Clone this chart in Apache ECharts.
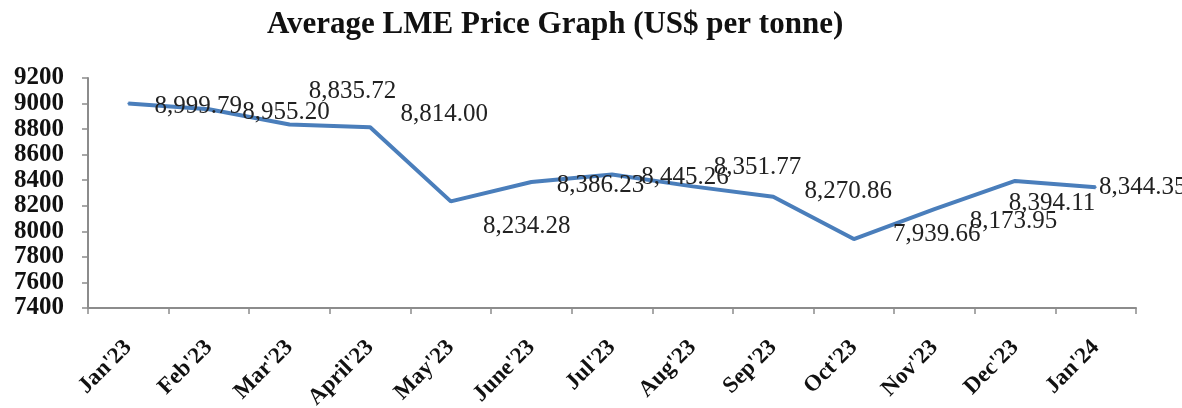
<!DOCTYPE html>
<html>
<head>
<meta charset="utf-8">
<script src="https://cdn.jsdelivr.net/npm/echarts@6/dist/echarts.min.js"></script>
<style>
  html, body { margin: 0; padding: 0; background: #fff; }
  #chart { width: 1182px; height: 408px; }
</style>
</head>
<body>
<div id="chart"></div>
<script>
// months on the x axis
const months = ["Jan'23", "Feb'23", "Mar'23", "April'23", "May'23", "June'23", "Jul'23",
  "Aug'23", "Sep'23", "Oct'23", "Nov'23", "Dec'23", "Jan'24"]
// average LME price, US$ per tonne
const prices = [8999.79, 8955.20, 8835.72, 8814.00, 8234.28, 8386.23, 8445.26,
  8351.77, 8270.86, 7939.66, 8173.95, 8394.11, 8344.35]
const yTicks = { min: 7400, max: 9200, step: 200 }

// where each data label's centre sits relative to its point (px)
const labelOffsets = [[70, 3], [77, 3], [63, -33], [74, -13], [76, 25], [69, 3], [73, 3],
  [65, -19], [75, -5], [83, -5], [79, 12], [37, 22], [47, 0]]

const chart = echarts.init(document.getElementById('chart'))

const serif = '"Liberation Serif", "Times New Roman", serif'

const option = {
  animation: false,
  title: {
    text: 'Average LME Price Graph (US$ per tonne)',
    left: 262,
    top: 4,
    textStyle: {
      fontFamily: serif,
      fontWeight: 'bold',
      fontSize: 31,
      color: '#111'
    }
  },
  grid: {
    left: 88,
    right: 46,
    top: 78,
    bottom: 100,
    outerBoundsMode: 'none'
  },
  xAxis: {
    type: 'category',
    data: months,
    boundaryGap: true,
    axisLine: { lineStyle: { color: '#8c8c8c', width: 2 } },
    axisTick: { show: true, length: 6, lineStyle: { color: '#8c8c8c', width: 1.5 } },
    axisLabel: {
      rotate: 45,
      margin: 36,
      interval: 0,
      fontFamily: serif,
      fontWeight: 'bold',
      fontSize: 23,
      color: '#111'
    }
  },
  yAxis: {
    type: 'value',
    min: yTicks.min,
    max: yTicks.max,
    interval: yTicks.step,
    splitLine: { show: false },
    axisLine: { show: true, lineStyle: { color: '#8c8c8c', width: 2 } },
    axisTick: { show: true, length: 6, lineStyle: { color: '#8c8c8c', width: 1.5 } },
    axisLabel: {
      margin: 24,
      fontFamily: serif,
      fontWeight: 'bold',
      fontSize: 25,
      color: '#111',
      formatter: function (v) { return String(v) }
    }
  },
  series: [{
    type: 'line',
    data: prices,
    symbol: 'circle',
    symbolSize: 2,
    itemStyle: { color: '#4a7ebb' },
    lineStyle: { color: '#4a7ebb', width: 4 },
    label: {
      show: true,
      position: 'inside',
      fontFamily: serif,
      fontSize: 25,
      color: '#222',
      formatter: function (p) {
        return p.value.toLocaleString('en-US', { minimumFractionDigits: 2, maximumFractionDigits: 2 })
      }
    },
    labelLayout: function (params) {
      const off = labelOffsets[params.dataIndex]
      return { dx: off[0], dy: off[1], hideOverlap: false }
    }
  }]
}

chart.setOption(option)
</script>
</body>
</html>
